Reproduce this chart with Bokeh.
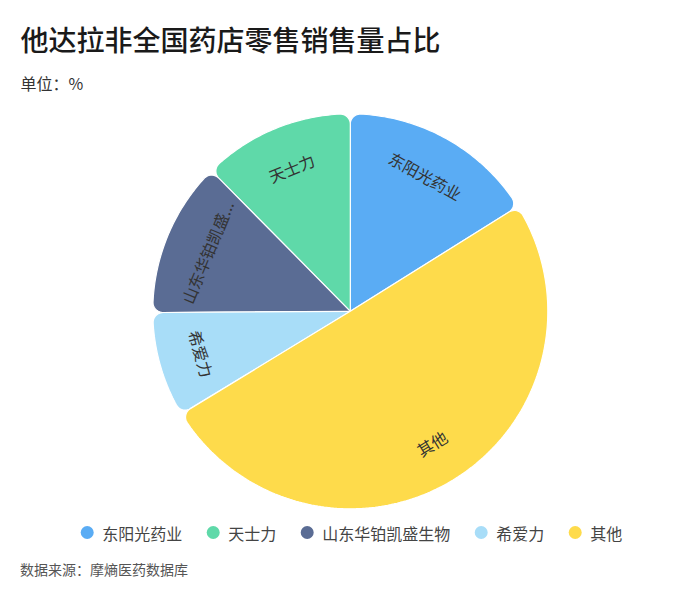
import math
from bokeh.plotting import figure
from bokeh.models import Range1d, ColumnDataSource
from bokeh.core.properties import value
from bokeh.embed import file_html
from bokeh.resources import INLINE

# ---- data ----
categories = ["东阳光药业", "天士力", "山东华铂凯盛生物", "希爱力", "其他"]
shares = [16.1, 12.4, 12.7, 8.6, 50.2]
slice_labels = ["东阳光药业", "天士力", "山东华铂凯盛...", "希爱力", "其他"]
colors = ["#5aacf4", "#5fd9a9", "#5a6c94", "#a8ddf8", "#fedb4b"]

title = "他达拉非全国药店零售销售量占比"
subtitle = "单位：%"
source_note = "数据来源：摩熵医药数据库"

# ---- layout ----
W, H = 684, 579
FONT = "Noto Sans CJK SC"


def sx(x):
    return x


def sy(y):
    return H - y


p = figure(width=W, height=H, x_range=Range1d(0, W), y_range=Range1d(0, H),
           output_backend="svg", toolbar_location=None, min_border=0)
p.axis.visible = False
p.grid.visible = False
p.outline_line_color = None
p.background_fill_color = "white"
p.border_fill_color = "white"

cx, cy = sx(349.8), sy(310.8)
R = 197.5
rc = 10.0
r_label = 155.0


def arc(xc, yc, r, a_from, a_to, n):
    pts = []
    for i in range(n + 1):
        a = a_from + (a_to - a_from) * i / n
        pts.append((xc + r * math.cos(a), yc + r * math.sin(a)))
    return pts


def sector(a0, a1):
    d = math.asin(rc / (R - rc))
    rf = R - rc
    pts = [(cx, cy)]
    f0x, f0y = cx + rf * math.cos(a0 + d), cy + rf * math.sin(a0 + d)
    pts += arc(f0x, f0y, rc, a0 - math.pi / 2, a0 + d, 12)
    n = max(8, int(abs(a1 - a0) * 60))
    pts += arc(cx, cy, R, a0 + d, a1 - d, n)
    f1x, f1y = cx + rf * math.cos(a1 - d), cy + rf * math.sin(a1 - d)
    pts += arc(f1x, f1y, rc, a1 - d, a1 + math.pi / 2, 12)
    return [q[0] for q in pts], [q[1] for q in pts]


total = sum(shares)
start = math.pi / 2 - 2 * math.pi * shares[0] / total
xs, ys, lx, ly, la = [], [], [], [], []
a = start
for v in shares:
    span = 2 * math.pi * v / total
    px, py = sector(a, a + span)
    xs.append(px)
    ys.append(py)
    mid = a + span / 2
    lx.append(cx + r_label * math.cos(mid))
    ly.append(cy + r_label * math.sin(mid))
    t = math.degrees(mid) - 90
    t = (t + 180) % 360 - 180
    if t > 90:
        t -= 180
    elif t < -90:
        t += 180
    la.append(math.radians(t))
    a += span

p.patches(xs=xs, ys=ys, fill_color=colors, line_color="white", line_width=1.2)

lab_src = ColumnDataSource(dict(x=lx, y=ly, text=slice_labels, angle=la))
p.text(x="x", y="y", text="text", angle="angle", source=lab_src,
       text_font=value(FONT), text_font_size="16px", text_color="#333333",
       text_align="center", text_baseline="middle")

# title / subtitle / source
p.text(x=[sx(20)], y=[sy(38)], text=[title], text_font=value("Noto Sans CJK SC Medium"),
       text_font_size="28px", text_color="#1a1a1a",
       text_align="left", text_baseline="middle")
p.text(x=[sx(20)], y=[sy(82)], text=[subtitle], text_font=value(FONT),
       text_font_size="16px", text_color="#333333",
       text_align="left", text_baseline="middle")
p.text(x=[sx(19.5)], y=[sy(568)], text=[source_note], text_font=value(FONT),
       text_font_size="14px", text_color="#555555",
       text_align="left", text_baseline="middle")

# legend
LEG_FS = 16
mx, tx = [], []
m = 86.7
for name in categories:
    mx.append(sx(m))
    tx.append(sx(m + 15))
    m = m + 15 + LEG_FS * len(name) + 31
leg_y = sy(532)
p.scatter(x=mx, y=[leg_y] * len(mx), size=13, marker="circle",
          fill_color=colors, line_color=None)
p.text(x=tx, y=[leg_y] * len(tx), text=categories, text_font=value(FONT),
       text_font_size=f"{LEG_FS}px", text_color="#444444",
       text_align="left", text_baseline="middle")

open("out.html", "w").write(file_html(p, INLINE))
